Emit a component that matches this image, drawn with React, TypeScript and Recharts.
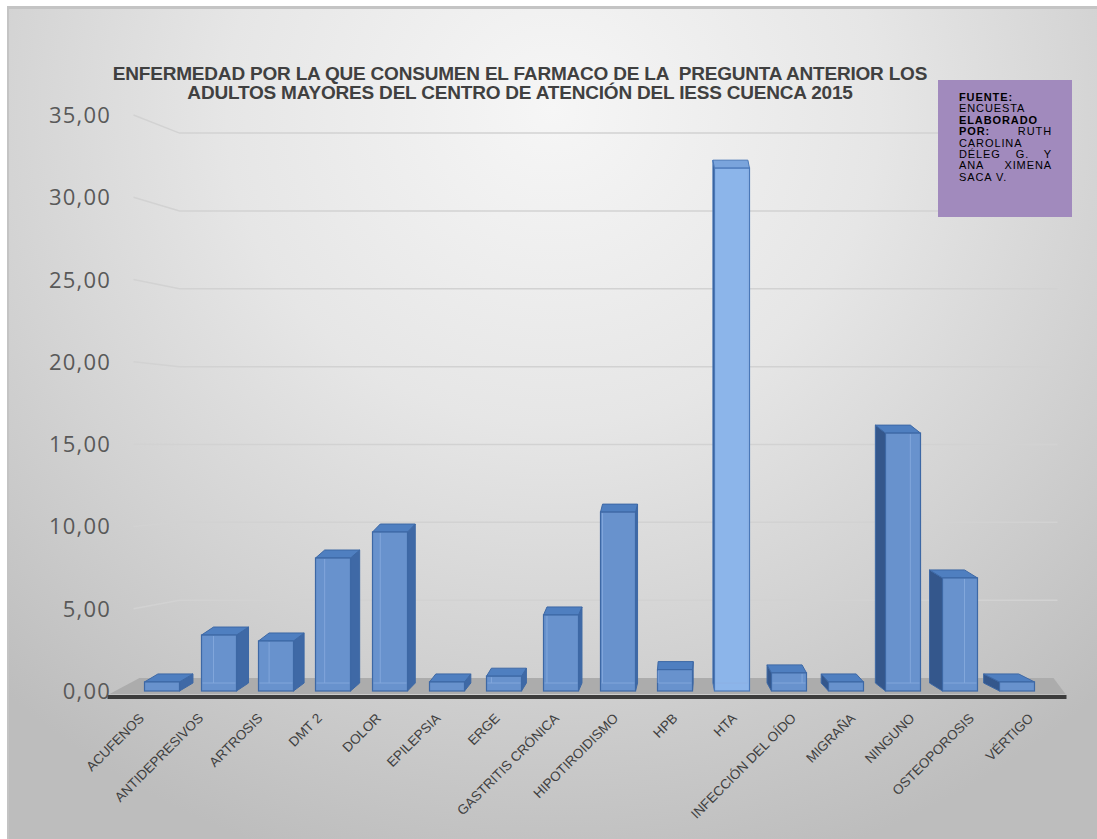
import { BarChart, Bar, XAxis, YAxis, CartesianGrid } from "recharts"

const categories = [
  "ACUFENOS",
  "ANTIDEPRESIVOS",
  "ARTROSIS",
  "DMT 2",
  "DOLOR",
  "EPILEPSIA",
  "ERGE",
  "GASTRITIS CRÓNICA",
  "HIPOTIROIDISMO",
  "HPB",
  "HTA",
  "INFECCIÓN DEL OÍDO",
  "MIGRAÑA",
  "NINGUNO",
  "OSTEOPOROSIS",
  "VÉRTIGO",
]

const values = [0.55, 3.4, 3.04, 8.08, 9.66, 0.55, 0.9, 4.62, 10.87, 1.3, 31.77, 1.1, 0.55, 15.67, 6.87, 0.55]

const yTicks = [0, 5, 10, 15, 20, 25, 30, 35]
const Y_MAX = 35

// back wall lines (0 = floor)
const gridValues = [0, 5, 10, 15, 20, 25, 30, 35]

const titleLines = [
  "ENFERMEDAD POR LA QUE CONSUMEN EL FARMACO DE LA  PREGUNTA ANTERIOR LOS",
  "ADULTOS MAYORES DEL CENTRO DE ATENCIÓN DEL IESS CUENCA 2015",
]

const data = categories.map((name, i) => ({ name, value: values[i] }))

const W = 1097
const H = 839
const X_AXIS_H = 148
const PLOT_BOTTOM = H - X_AXIS_H

// the back wall sits a little higher and is a little smaller than the front plane
const backValue = (v: number) => 0.79 + 0.946 * v

const fmt = (v: number) => v.toFixed(2).replace(".", ",")

// perspective: bars left of the eye show their right side, bars to the right show the left one
const VX = 700
const sideOffset = (cx: number) => (cx < VX ? (VX - cx) * 0.025 : -(cx - VX) * 0.05)

const Bar3D = (props: any) => {
  const { x, y, width, height, index } = props
  if (width == null || height == null) return null
  const dx = sideOffset(x + width / 2)
  const dy = 8
  const light = categories[index] === "HTA"
  const front = light ? "#8cb5ea" : "#6892cd"
  const stroke = light ? "#4a78b8" : "#3d68a5"
  const top = light ? "#7aa4dc" : "#4f7fc0"
  const side = dx > 0 ? "#3f69a6" : "#34578c"
  const b = y + height

  const sidePts =
    dx > 0
      ? `${x + width},${y} ${x + width + dx},${y - dy} ${x + width + dx},${b - dy} ${x + width},${b}`
      : `${x},${y} ${x + dx},${y - dy} ${x + dx},${b - dy} ${x},${b}`
  const topPts = `${x},${y} ${x + width},${y} ${x + width + dx},${y - dy} ${x + dx},${y - dy}`

  // back edges seen through the front face
  const innerX = dx > 0 ? x + dx : x + width + dx
  return (
    <g>
      <polygon points={sidePts} fill={side} stroke={stroke} strokeWidth={1} />
      <polygon points={topPts} fill={top} stroke={stroke} strokeWidth={1} />
      <rect x={x} y={y} width={width} height={height} fill={front} stroke={stroke} strokeWidth={1.2} />
      {height > 12 && (
        <g stroke="#8db0e2" strokeWidth={1} opacity={0.7}>
          <line x1={innerX} y1={y + 1} x2={innerX} y2={b - dy} />
          <line x1={x + 1} y1={b - dy} x2={x + width - 1} y2={b - dy} />
        </g>
      )}
    </g>
  )
}

const GridLine = (props: any) => {
  const { x1, x2, y1, index } = props
  const v = gridValues[index]
  if (v === 0) {
    // floor + front axis line
    const yb = y1
    const yf = PLOT_BOTTOM + 3
    return (
      <g>
        <polygon
          points={`${x1 - 24},${yf} ${x1 + 6},${yb} ${x2 + 8},${yb} ${x2 + 20},${yf}`}
          fill="#acacac"
        />
        <line x1={x1 - 26} y1={yf + 3} x2={x2 + 21} y2={yf + 3} stroke="#3c3c3c" strokeWidth={4} />
      </g>
    )
  }
  const yFront = PLOT_BOTTOM - ((PLOT_BOTTOM - y1) * v) / backValue(v)
  return (
    <polyline
      points={`${x1},${yFront} ${x1 + 46},${y1} ${x2 + 12},${y1}`}
      fill="none"
      stroke="#d2d2d2"
      strokeWidth={1.5}
    />
  )
}

const gridCoords = ({ yAxis, offset }: any) =>
  gridValues.map((v) => {
    const bv = backValue(v)
    if (yAxis && typeof yAxis.scale === "function") return yAxis.scale(bv)
    return offset.top + offset.height * (1 - bv / Y_MAX)
  })

const YTick = (props: any) => {
  const { y, payload } = props
  return (
    <text x={111} y={y} dy={8} textAnchor="end" fontSize={22} fill="#595959" fontFamily="'Open Sans', sans-serif" letterSpacing={1.2}>
      {fmt(payload.value)}
    </text>
  )
}

const XTick = (props: any) => {
  const { x, payload } = props
  const lx = 590 + (x - 590) * 1.04
  const ly = PLOT_BOTTOM + 28
  return (
    <text
      x={lx}
      y={ly}
      textAnchor="end"
      fontSize={13.5}
      fill="#404040"
      fontFamily="'Liberation Sans', Arial, sans-serif"
      transform={`rotate(-45 ${lx} ${ly})`}
    >
      {payload.value}
    </text>
  )
}

const noteLines: { parts: { t: string; bold?: boolean }[]; justify?: boolean }[] = [
  { parts: [{ t: "FUENTE:", bold: true }] },
  { parts: [{ t: "ENCUESTA" }] },
  { parts: [{ t: "ELABORADO", bold: true }] },
  { parts: [{ t: "POR:", bold: true }, { t: " RUTH" }], justify: true },
  { parts: [{ t: "CAROLINA" }] },
  { parts: [{ t: "DÉLEG G. Y" }], justify: true },
  { parts: [{ t: "ANA XIMENA" }], justify: true },
  { parts: [{ t: "SACA V." }] },
]

export default function App() {
  return (
    <div style={{ position: "absolute", left: 0, top: 0, width: W, height: H, background: "#fff", overflow: "hidden" }}>
      <div
        style={{
          position: "absolute",
          left: 7,
          top: 6,
          width: W - 7,
          height: H - 6,
          borderLeft: "2px solid #c4c4c4",
          borderTop: "3px solid #c4c4c4",
          boxSizing: "border-box",
          background: "radial-gradient(ellipse 75% 95% at 50% 12%, #f6f6f6 0%, #e6e6e6 40%, #d2d2d2 70%, #bdbdbd 100%)",
        }}
      />
      <div
        style={{
          position: "absolute",
          left: 0,
          top: 64,
          width: 1040,
          textAlign: "center",
          fontFamily: "'Liberation Sans', Arial, sans-serif",
          fontWeight: "bold",
          fontSize: 19,
          lineHeight: "19px",
          color: "#404040",
          letterSpacing: -0.2,
          whiteSpace: "pre",
        }}
      >
        {titleLines.map((l) => (
          <div key={l}>{l}</div>
        ))}
      </div>
      <div style={{ position: "absolute", left: 0, top: 0 }}>
        <BarChart width={W} height={H} data={data} margin={{ top: 115, right: 51.5, bottom: 0, left: 13.5 }}>
          <CartesianGrid vertical={false} horizontal={GridLine} horizontalCoordinatesGenerator={gridCoords} />
          <XAxis dataKey="name" axisLine={false} tickLine={false} interval={0} height={X_AXIS_H} tick={XTick} />
          <YAxis domain={[0, Y_MAX]} ticks={yTicks} axisLine={false} tickLine={false} width={120} tick={YTick} />
          <Bar dataKey="value" barSize={35} shape={Bar3D} isAnimationActive={false} />
        </BarChart>
      </div>
      <div
        style={{
          position: "absolute",
          left: 938,
          top: 80,
          width: 134,
          height: 137,
          background: "#a18abd",
          boxSizing: "border-box",
          padding: "12px 0 0 21px",
          fontFamily: "'Liberation Sans', Arial, sans-serif",
          fontSize: 11,
          lineHeight: "11.4px",
          letterSpacing: 0.9,
          color: "#000",
        }}
      >
        {noteLines.map((ln, i) => (
          <div
            key={i}
            style={{ width: 93, textAlign: ln.justify ? "justify" : "left", textAlignLast: ln.justify ? "justify" : "left" }}
          >
            {ln.parts.map((p, j) => (
              <span key={j} style={{ fontWeight: p.bold ? "bold" : "normal" }}>
                {p.t}
              </span>
            ))}
          </div>
        ))}
      </div>
    </div>
  )
}
